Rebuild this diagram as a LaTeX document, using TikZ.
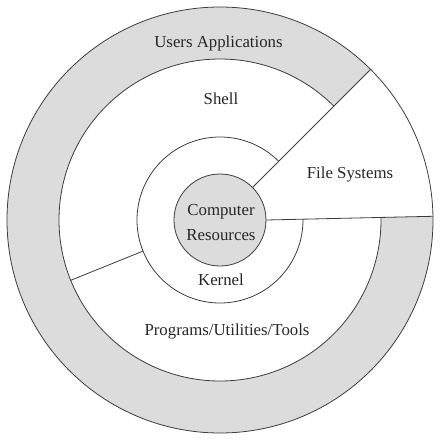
\documentclass[tikz,border=0pt]{standalone}
\usepackage{fontspec}
\setmainfont{Liberation Serif}
\definecolor{ringgray}{HTML}{DCDCDC}
\definecolor{linegray}{HTML}{3C3C3C}
\tikzset{
  layer/.style={draw=linegray, line width=0.8pt},
  core/.style={circle, draw=linegray, fill=ringgray, line width=0.8pt, minimum size=92pt, inner sep=0pt},
  lbl/.style={font=\fontsize{16.8}{25}\selectfont, text=black!85, anchor=base, inner sep=0pt}
}
\begin{document}
\begin{tikzpicture}[x=1pt, y=1pt]
 \useasboundingbox (-220,-220) rectangle (220,220);
 \fill[ringgray] (45:213) arc[start angle=45, end angle=361, radius=213]
   -- (361:161) arc[start angle=361, end angle=45, radius=161] -- cycle;
 \draw[layer] (0,0) circle[radius=213];
 \draw[layer] (45:161) arc[start angle=45, end angle=361, radius=161];
 \draw[layer] (45:83) arc[start angle=45, end angle=361, radius=83];
 \node[core] (res) at (0,0) {};
 \coordinate (fstop) at (45:213);
 \coordinate (fsbot) at (1:213);
 \coordinate (krn) at (202:83);
 \coordinate (shl) at (202:161);
 \draw[layer] (res.45) -- (fstop);
 \draw[layer] (res.0) -- (fsbot);
 \draw[layer] (krn) -- (shl);
 \node[lbl] (apps) at (-1.5,172.3) {Users Applications};
 \node[lbl] (shell) at (1,115.7) {Shell};
 \node[lbl] (fs) at (130,41.7) {File Systems};
 \node[lbl, anchor=center, align=center] (resl) at (1,-3) {Computer\\Resources};
 \node[lbl] (kernel) at (1,-65) {Kernel};
 \node[lbl] (prog) at (7,-115) {Programs/Utilities/Tools};
\end{tikzpicture}
\end{document}
